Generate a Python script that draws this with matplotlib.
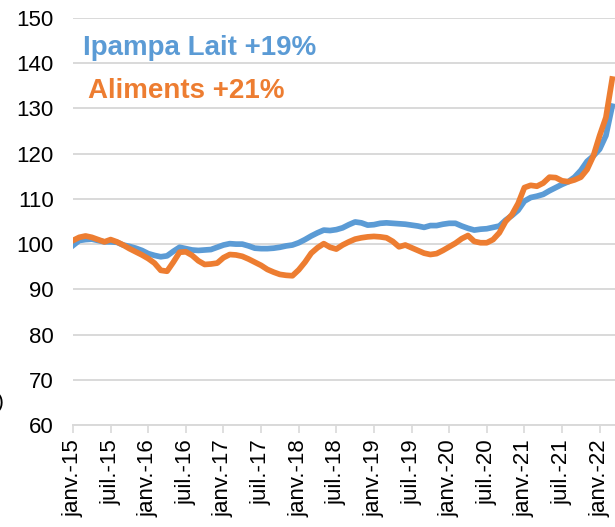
import matplotlib
matplotlib.use("Agg")
import matplotlib.pyplot as plt

# monthly index, base 100 = janv. 2015
ipampa_lait = [
    99.7, 100.8, 101.0, 101.1, 100.8, 100.5, 100.5, 100.4, 99.8, 99.5, 99.1, 98.6,
    97.9, 97.5, 97.2, 97.4, 98.4, 99.3, 99.0, 98.7, 98.6, 98.7, 98.8, 99.3,
    99.8, 100.1, 100.0, 100.0, 99.6, 99.1, 99.0, 99.0, 99.1, 99.3, 99.6, 99.8,
    100.3, 101.0, 101.8, 102.5, 103.1, 103.0, 103.2, 103.6, 104.3, 104.9, 104.7, 104.2,
    104.3, 104.6, 104.7, 104.6, 104.5, 104.4, 104.2, 104.0, 103.7, 104.1, 104.1, 104.4,
    104.6, 104.6, 104.0, 103.5, 103.1, 103.3, 103.4, 103.7, 104.0, 105.3, 106.3, 107.5,
    109.5, 110.3, 110.6, 111.0, 111.8, 112.5, 113.2, 113.8, 114.8, 116.3, 118.3, 119.5,
    121.0, 124.0, 130.5,
]
aliments = [
    100.8, 101.5, 101.8, 101.5, 101.0, 100.5, 101.0, 100.5, 99.8, 99.0, 98.3, 97.6,
    96.8, 95.8, 94.2, 94.0, 96.0, 98.2, 98.3, 97.5, 96.3, 95.5, 95.6, 95.8,
    97.0, 97.7, 97.6, 97.3, 96.7, 96.0, 95.3, 94.4, 93.8, 93.3, 93.1, 93.0,
    94.3, 96.0, 98.0, 99.2, 100.1, 99.3, 98.9, 99.8, 100.5, 101.1, 101.4, 101.6,
    101.7, 101.6, 101.4, 100.6, 99.4, 99.8, 99.2, 98.6, 98.0, 97.7, 97.9, 98.6,
    99.4, 100.2, 101.2, 101.9, 100.6, 100.3, 100.3, 101.0, 102.5, 105.0, 106.5, 109.0,
    112.5, 113.0, 112.8, 113.5, 114.8, 114.7, 114.0, 113.8, 114.2, 114.8, 116.5, 119.5,
    124.0, 128.0, 136.5,
]
tick_labels = ['janv.-15', 'juil.-15', 'janv.-16', 'juil.-16', 'janv.-17', 'juil.-17',
               'janv.-18', 'juil.-18', 'janv.-19', 'juil.-19', 'janv.-20', 'juil.-20',
               'janv.-21', 'juil.-21', 'janv.-22']
y_ticks = [60, 70, 80, 90, 100, 110, 120, 130, 140, 150]

blue = '#5B9BD5'
orange = '#ED7D31'
grid = '#D9D9D9'

plt.rcParams['font.family'] = ['Liberation Sans', 'DejaVu Sans']

fig = plt.figure(figsize=(6.15, 5.27), dpi=100)
ax = fig.add_axes([73 / 615, 102 / 527, 542 / 615, 407 / 527])

months = list(range(len(ipampa_lait)))
ax.plot(months, ipampa_lait, color=blue, lw=4.1, solid_joinstyle='round', zorder=3)
ax.plot(months, aliments, color=orange, lw=4.1, solid_joinstyle='round', zorder=4)

ax.set_xlim(0, 86.45)
ax.set_ylim(60, 150)
ax.set_yticks(y_ticks)
ax.set_xticks([6 * i for i in range(len(tick_labels))])
ax.set_xticklabels(tick_labels, rotation=90)
ax.tick_params(axis='y', length=0, labelsize=16, pad=14)
ax.tick_params(axis='x', length=6, width=1.2, color=grid, labelsize=16, pad=4)
ax.grid(axis='y', color=grid, lw=1.4)
ax.set_axisbelow(True)
for side in ['top', 'right', 'left']:
    ax.spines[side].set_visible(False)
ax.spines['bottom'].set_color(grid)
ax.spines['bottom'].set_linewidth(1.4)

fig.text(83 / 615, 1 - 55 / 527, 'Ipampa Lait +19%', color=blue, fontsize=20,
         fontweight='bold', ha='left', va='baseline')
fig.text(88 / 615, 1 - 98 / 527, 'Aliments +21%', color=orange, fontsize=20,
         fontweight='bold', ha='left', va='baseline')
# fragment of a cropped label at the left edge
fig.text(4 / 615, 1 - 402 / 527, ')', fontsize=15, ha='right', va='center')

fig.savefig('out.png', dpi=100)
